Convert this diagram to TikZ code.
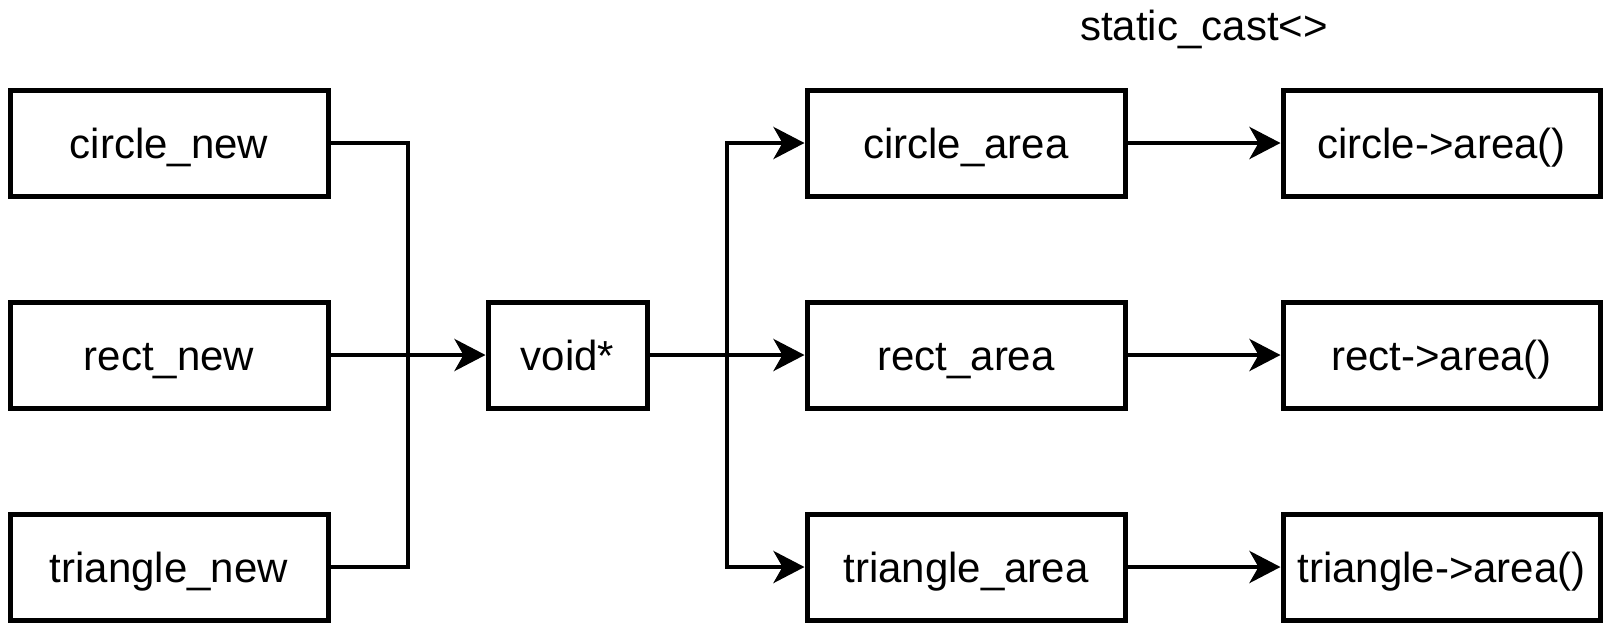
\documentclass[tikz,border=0pt]{standalone}
\usepackage{fontspec}
\setmainfont{Liberation Sans}
\usetikzlibrary{arrows.meta}
\begin{document}
\begin{tikzpicture}[x=1pt,y=-1pt,
  box/.style={draw, line width=5pt, inner sep=0pt, minimum height=106pt,
    text height=31pt, text depth=0pt,
    font=\fontsize{42}{48}\selectfont},
  wide/.style={box, minimum width=318pt},
  narrow/.style={box, minimum width=159pt},
  link/.style={line width=4.5pt},
  flow/.style={link, -{Stealth[length=31pt,width=32pt,inset=9pt]}}]
\useasboundingbox (0,0) rectangle (1604,622);

% sources
\node[wide] (cn) at (169,143) {circle\_new};
\node[wide] (rn) at (169,355) {rect\_new};
\node[wide] (tn) at (169,567) {triangle\_new};

% opaque handle
\node[narrow] (vp) at (567.5,355) {void*};

% typed functions
\node[wide] (ca) at (966,143) {circle\_area};
\node[wide] (ra) at (966,355) {rect\_area};
\node[wide] (ta) at (966,567) {triangle\_area};

% method calls
\node[box, minimum width=317pt] (cm) at (1441.5,143) {circle->area()};
\node[box, minimum width=317pt] (rm) at (1441.5,355) {rect->area()};
\node[box, minimum width=317pt] (tm) at (1441.5,567) {triangle->area()};

\node[anchor=base, inner sep=0pt, font=\fontsize{42}{48}\selectfont] (sc) at (1204,40) {static\_cast<>};

% junction points
\coordinate (jl) at (408,355);
\coordinate (jr) at (727,355);

% merge into void*
\draw[link] (cn.east) -| (jl);
\draw[link] (tn.east) -| (jl);
\draw[flow] (rn.east) -- (vp.west);

% fan out from void*
\draw[link] (vp.east) -- (jr);
\draw[flow] (jr) |- (ca.west);
\draw[flow] (jr) -- (ra.west);
\draw[flow] (jr) |- (ta.west);

% calls
\draw[flow] (ca.east) -- (cm.west);
\draw[flow] (ra.east) -- (rm.west);
\draw[flow] (ta.east) -- (tm.west);
\end{tikzpicture}
\end{document}
